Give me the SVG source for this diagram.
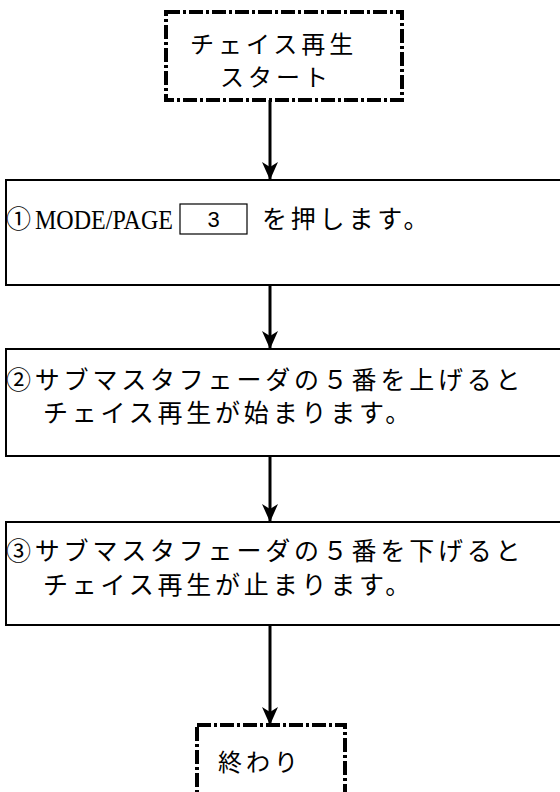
<svg xmlns="http://www.w3.org/2000/svg" width="560" height="792" viewBox="0 0 560 792">
<style>
.bg{fill:#fff}
.box{fill:none;stroke:#000;stroke-width:2}
.term{fill:none;stroke:#000;stroke-width:4;stroke-dasharray:14 3 3 3}
.jp{font-family:"Noto Sans CJK JP","Noto Sans",sans-serif;font-size:25px;fill:#000;letter-spacing:3.8px}
.jt{font-family:"Noto Sans CJK JP","Noto Sans",sans-serif;font-size:24px;fill:#000;letter-spacing:4px}
.en{font-family:"Liberation Serif",serif;font-size:28px;fill:#000}
.key{fill:none;stroke:#000;stroke-width:1.2}
.kn{font-family:"Liberation Sans",sans-serif;font-size:22px;fill:#000}
.conn{fill:none;stroke:#000;stroke-width:3}
</style>
<defs>
<marker id="arr" viewBox="-20 -10 22 20" refX="0" refY="0" markerWidth="22" markerHeight="20" markerUnits="userSpaceOnUse" orient="auto">
<path d="M0,0 L-18,-8 L-13,0 L-18,8 Z" fill="#000"/>
</marker>
</defs>
<rect class="bg" x="0" y="0" width="560" height="792"/>
<g id="connectors">
<line class="conn" x1="270" y1="100" x2="270" y2="180" marker-end="url(#arr)"/>
<line class="conn" x1="270" y1="285" x2="270" y2="349" marker-end="url(#arr)"/>
<line class="conn" x1="270" y1="456" x2="270" y2="522" marker-end="url(#arr)"/>
<line class="conn" x1="270" y1="625" x2="270" y2="725" marker-end="url(#arr)"/>
</g>
<g id="start">
<rect class="term" x="166" y="12" width="236" height="88"/>
<text class="jt" x="190" y="53">チェイス再生</text>
<text class="jt" x="220" y="86">スタート</text>
</g>
<g id="step1">
<rect class="box" x="6" y="180" width="570" height="105"/>
<text class="jp" x="6" y="228">①</text>
<text class="en" x="35" y="229" textLength="138" lengthAdjust="spacingAndGlyphs">MODE/PAGE</text>
<rect class="key" x="180" y="204" width="67" height="30"/>
<text class="kn" x="213.5" y="227" text-anchor="middle">3</text>
<text class="jp" x="262" y="228">を押します。</text>
</g>
<g id="step2">
<rect class="box" x="6" y="349" width="570" height="107"/>
<text class="jp" x="6" y="389">②サブマスタフェーダの５番を上げると</text>
<text class="jp" x="43" y="422">チェイス再生が始まります。</text>
</g>
<g id="step3">
<rect class="box" x="6" y="522" width="570" height="103"/>
<text class="jp" x="6" y="560">③サブマスタフェーダの５番を下げると</text>
<text class="jp" x="43" y="594">チェイス再生が止まります。</text>
</g>
<g id="end">
<rect class="term" x="197" y="725" width="148" height="90"/>
<text class="jt" x="218" y="771">終わり</text>
</g>
</svg>
